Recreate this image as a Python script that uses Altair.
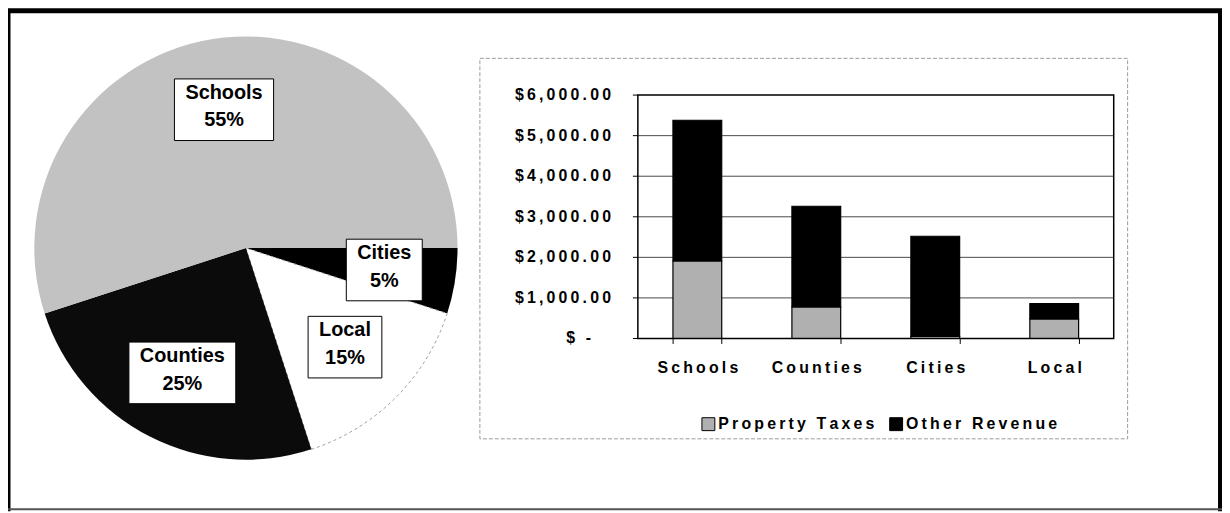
import math
import altair as alt
import pandas as pd

# ---------------- data ----------------
# pie slices, clockwise starting at 3 o'clock
pie_categories = ["Cities", "Local", "Counties", "Schools"]
pie_percent = [5, 15, 25, 55]

bar_categories = ["Schools", "Counties", "Cities", "Local"]
property_taxes = [1910, 780, 50, 480]
other_revenue = [3470, 2480, 2470, 380]
series_names = ["Property Taxes", "Other Revenue"]

y_tick_values = [0, 1000, 2000, 3000, 4000, 5000, 6000]
y_tick_labels = ["$ -", "$1,000.00", "$2,000.00", "$3,000.00",
                 "$4,000.00", "$5,000.00", "$6,000.00"]

# ---------------- layout / style (canvas px) ----------------
W, H = 1222, 505
FONT = "Liberation Sans"
THIN = "\u2009"
PIE_CX, PIE_CY, PIE_R = 239.5, 240, 213
LABEL_R = 141
LINE_H = 27.6
PIE_START = math.pi / 2
PLOT_X0, PLOT_X1 = 634, 1113
PLOT_Y0, PLOT_Y1 = 86, 331

pie_fill = {"Cities": "#000000", "Local": "#ffffff", "Counties": "#0b0b0b", "Schools": "#c2c2c2"}

# approx Arial Bold advance widths (em/1000) for box sizing
CW = {"S": 667, "c": 556, "h": 611, "o": 611, "l": 278, "s": 556, "C": 722, "i": 278,
      "t": 333, "e": 556, "L": 611, "a": 556, "u": 611, "n": 611, "%": 889}


def text_w(s, size):
    return sum(CW.get(ch, 556) for ch in s) * size / 1000.0


def spaced(s):
    return THIN.join(s)


# pie label table (positions derived from the slice angles)
rows = []
cum = 0.0
for i, (c, p) in enumerate(zip(pie_categories, pie_percent)):
    mid = PIE_START + 2 * math.pi * (cum + p / 2) / 100.0
    cum += p
    lx = PIE_CX + LABEL_R * math.sin(mid)
    ly = PIE_CY - LABEL_R * math.cos(mid)
    pct = f"{p}%"
    hw = max(text_w(c, 20), text_w(pct, 20)) / 2 + 11
    rows.append(dict(cat=c, pct=p, idx=i, txt=f"{c}\n{pct}",
                     tx=lx, ty=ly - 3 - LINE_H / 2,
                     bx1=lx - hw, bx2=lx + hw, by1=ly - 31, by2=ly + 31))
pie_df = pd.DataFrame(rows)

bar_rows = []
for i, c in enumerate(bar_categories):
    bar_rows.append(dict(cat=c, series=series_names[0], val=property_taxes[i], k=0))
    bar_rows.append(dict(cat=c, series=series_names[1], val=other_revenue[i], k=1))
bar_df = pd.DataFrame(bar_rows)

ytick_df = pd.DataFrame({"v": y_tick_values, "lab": [spaced(s) for s in y_tick_labels]})

one = pd.DataFrame({"a": [0]})

# ---------------- outer frame ----------------
frame_top = alt.Chart(one).mark_rule(color="black", strokeWidth=5).encode(
    x=alt.value(0), x2=alt.value(W), y=alt.value(1))
frame_left = alt.Chart(one).mark_rule(color="black", strokeWidth=5).encode(
    x=alt.value(0), y=alt.value(0), y2=alt.value(H))
frame_right = alt.Chart(one).mark_rule(color="black", strokeWidth=4).encode(
    x=alt.value(1220), y=alt.value(0), y2=alt.value(H))
frame_bottom = alt.Chart(one).mark_rule(color="#555555", strokeWidth=2).encode(
    x=alt.value(0), x2=alt.value(W), y=alt.value(503))

# ---------------- pie ----------------
pie = alt.Chart(pie_df).mark_arc(radius=PIE_R, stroke="#9a9a9a", strokeDash=[3, 3]).encode(
    theta=alt.Theta("pct:Q", stack=True,
                    scale=alt.Scale(domain=[0, 100], range=[PIE_START, PIE_START + 2 * math.pi])),
    order=alt.Order("idx:Q", sort="ascending"),
    fill=alt.Fill("cat:N", scale=alt.Scale(domain=pie_categories,
                                           range=[pie_fill[c] for c in pie_categories]), legend=None),
    strokeWidth=alt.condition("datum.cat == 'Local'", alt.value(1), alt.value(0)),
    x=alt.value(PIE_CX), y=alt.value(PIE_CY),
)

boxes = alt.Chart(pie_df).mark_rect(fill="white", stroke="black", strokeWidth=1).encode(
    x=alt.X("bx1:Q", scale=None, axis=None), x2="bx2:Q",
    y=alt.Y("by1:Q", scale=None, axis=None), y2="by2:Q",
)
labels = alt.Chart(pie_df).mark_text(font=FONT, fontSize=20, fontWeight="bold", lineBreak="\n",
                                     lineHeight=LINE_H, align="center", baseline="middle",
                                     color="black").encode(
    x=alt.X("tx:Q", scale=None, axis=None),
    y=alt.Y("ty:Q", scale=None, axis=None),
    text="txt:N",
)
pie_labels = alt.layer(boxes, labels)

# ---------------- bar chart ----------------
xsc = alt.Scale(domain=bar_categories, range=[PLOT_X0, PLOT_X1], paddingInner=0.59, paddingOuter=0.295)
ysc = alt.Scale(domain=[0, 6000], range=[PLOT_Y1, PLOT_Y0], nice=False, zero=True)

sp_expr = f"join(split(datum.label, ''), '{THIN}')"

chart_area = alt.Chart(one).mark_rect(fill=None, stroke="#9a9a9a", strokeWidth=1,
                                      strokeDash=[4, 2]).encode(
    x=alt.value(475), x2=alt.value(1127), y=alt.value(49), y2=alt.value(432))

grid = alt.Chart(pd.DataFrame({"v": y_tick_values[1:-1]})).mark_rule(color="#4a4a4a", strokeWidth=1).encode(
    y=alt.Y("v:Q", scale=ysc, axis=None),
    x=alt.value(PLOT_X0), x2=alt.value(PLOT_X1),
)

# y axis: ticks and labels placed through the y scale
y_ticks = alt.Chart(ytick_df).mark_rule(color="black", strokeWidth=1).encode(
    y=alt.Y("v:Q", scale=ysc, axis=None),
    x=alt.value(PLOT_X0 - 5), x2=alt.value(PLOT_X0),
)
ylab_style = dict(font=FONT, fontSize=16, fontWeight="bold", color="black",
                  align="right", baseline="middle")
y_labels = alt.Chart(ytick_df).transform_filter("datum.v != 0").mark_text(**ylab_style).encode(
    y=alt.Y("v:Q", scale=ysc, axis=None),
    x=alt.value(PLOT_X0 - 27),
    text="lab:N",
)
y_label_zero = alt.Chart(ytick_df).transform_filter("datum.v == 0").mark_text(dx=-20, **ylab_style).encode(
    y=alt.Y("v:Q", scale=ysc, axis=None),
    x=alt.value(PLOT_X0 - 27),
    text="lab:N",
)

bars = alt.Chart(bar_df).mark_bar(stroke="black", strokeWidth=1.2).encode(
    x=alt.X("cat:N", sort=bar_categories, scale=xsc,
            axis=alt.Axis(title=None, orient="bottom", offset=PLOT_Y1 - H, domain=False,
                          tickBand="extent", tickSize=5, tickColor="black", tickWidth=1,
                          labelAngle=0, labelFont=FONT, labelFontSize=16, labelFontWeight="bold",
                          labelColor="black", labelPadding=16, labelExpr=sp_expr, grid=False,
                          zindex=1)),
    y=alt.Y("val:Q", stack="zero", scale=ysc, axis=None),
    color=alt.Color("series:N", scale=alt.Scale(domain=series_names, range=["#b0b0b0", "#000000"]),
                    legend=alt.Legend(title=None, orient="none", legendX=697, legendY=409,
                                      direction="horizontal", symbolType="square", symbolSize=169,
                                      symbolStrokeColor="black", symbolStrokeWidth=1,
                                      symbolOpacity=1, labelFont=FONT, labelFontSize=16,
                                      labelFontWeight="bold", labelColor="black", labelOffset=2,
                                      columnPadding=12, labelLimit=400, padding=0,
                                      labelExpr=sp_expr)),
    order=alt.Order("k:Q", sort="ascending"),
)

plot_frame = alt.Chart(one).mark_rect(fill=None, stroke="black", strokeWidth=1.5).encode(
    x=alt.value(PLOT_X0), x2=alt.value(PLOT_X1), y=alt.value(PLOT_Y0), y2=alt.value(PLOT_Y1))

bar_chart = alt.layer(chart_area, grid, y_ticks, y_labels, y_label_zero, bars, plot_frame)

chart = alt.layer(
    frame_top, frame_left, frame_right, frame_bottom,
    pie, pie_labels, bar_chart,
).resolve_scale(
    x="independent", y="independent", color="independent"
).properties(
    width=W, height=H, padding=0, background="white",
    autosize=alt.AutoSizeParams(type="none"),
).configure_view(stroke=None)

chart.save("out.html", embed_options={"renderer": "svg", "actions": False})
